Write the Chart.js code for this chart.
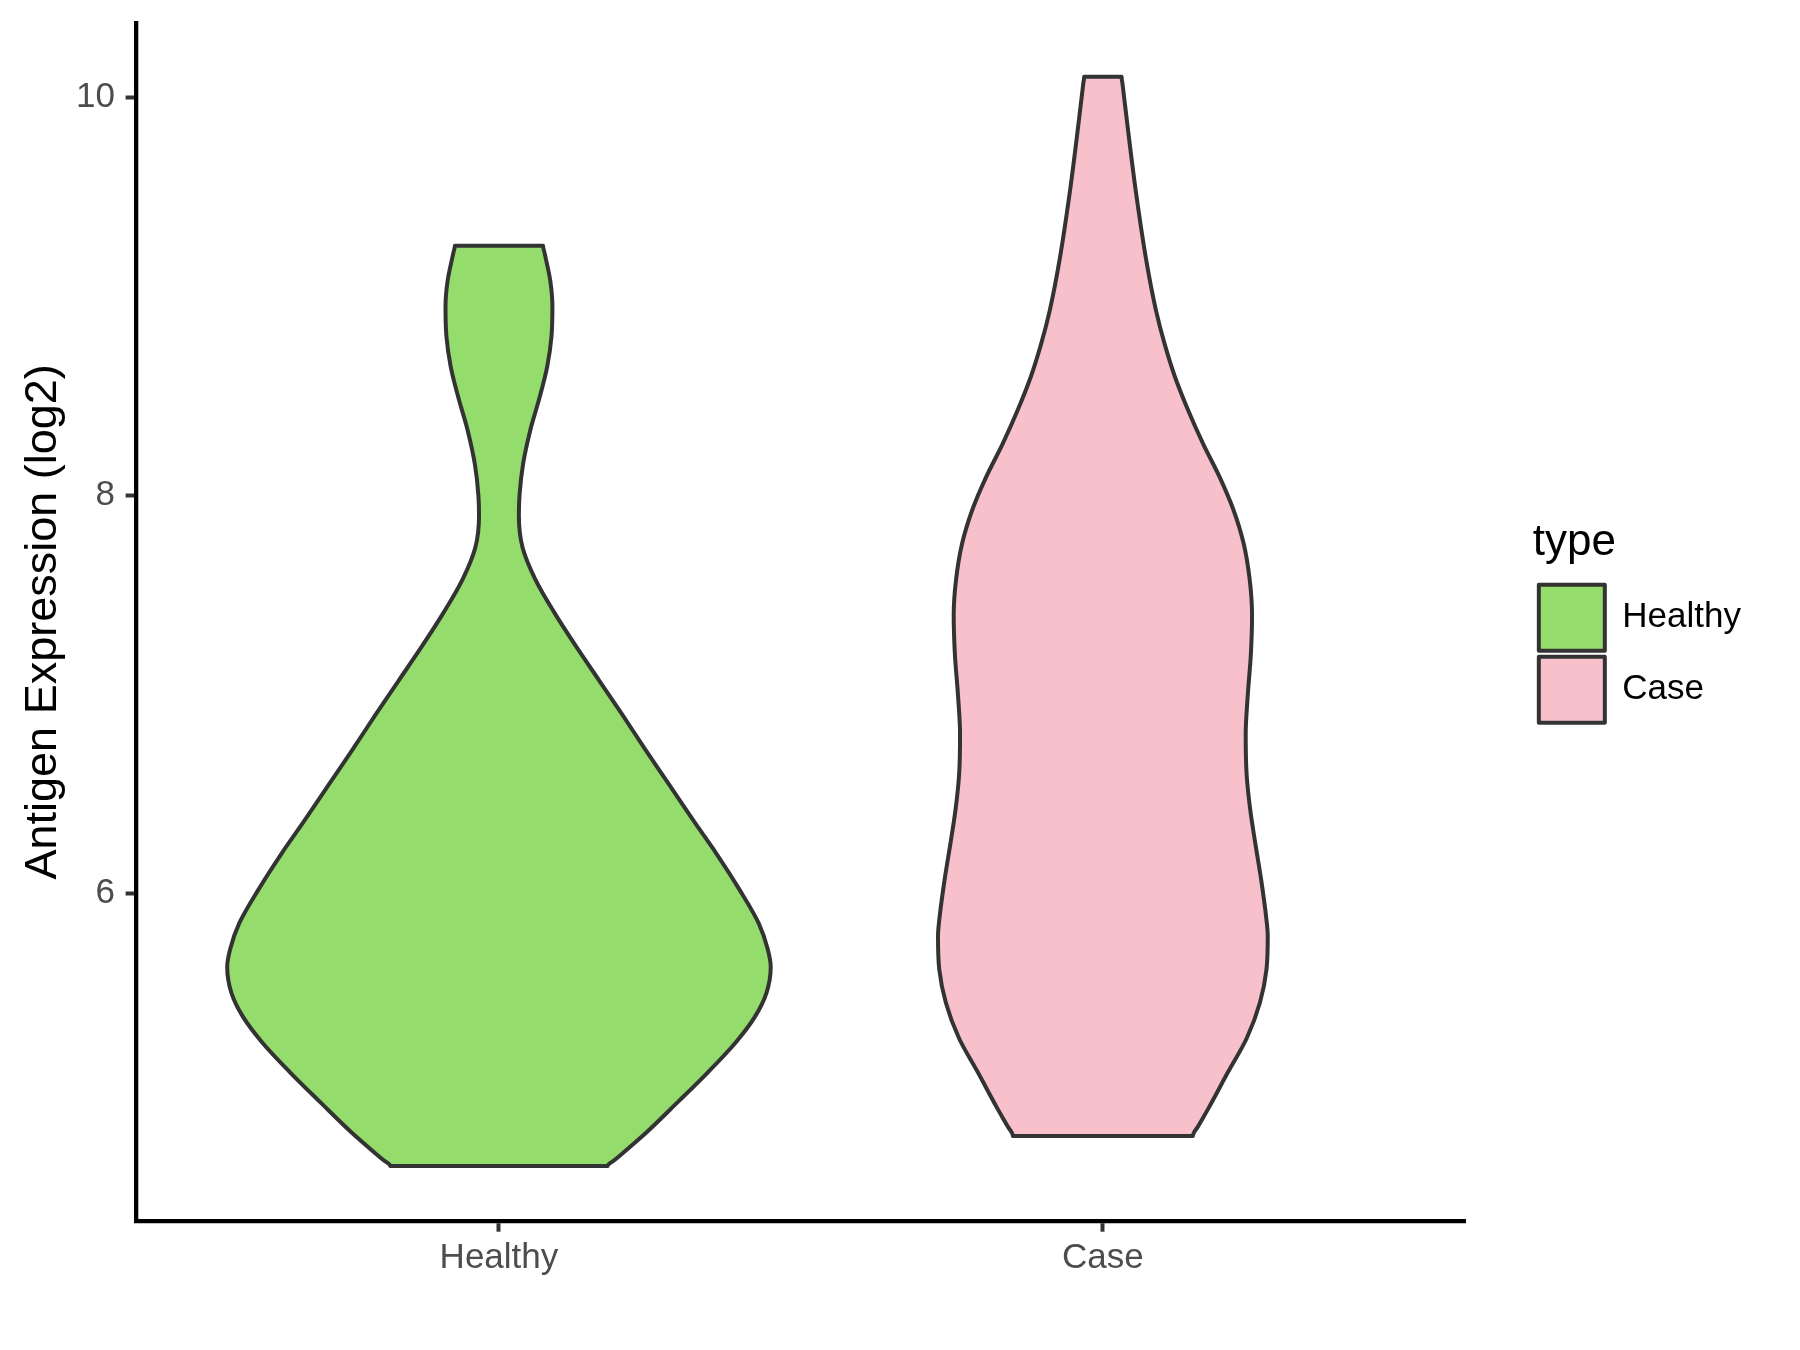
<!DOCTYPE html>
<html>
<head>
<meta charset="utf-8">
<title>Antigen Expression (log2)</title>
<script src="https://cdn.jsdelivr.net/npm/chart.js"></script>
<style>
  html, body { margin: 0; padding: 0; background: #fff; }
  canvas { display: block; }
</style>
</head>
<body>
<canvas id="violin" width="1800" height="1350"></canvas>
<script>
const categories = ['Healthy', 'Case'];
const yTicks = [6, 8, 10];

// violin outlines: expression level (top -> bottom) and half width of the density, in category units
const healthyLevels = [9.256, 9.22, 9.08, 8.95, 8.80, 8.65, 8.49, 8.33, 8.16, 8.00, 7.90, 7.74, 7.58, 7.41, 7.24, 7.07,
  6.90, 6.72, 6.55, 6.37, 6.20, 6.02, 5.85, 5.72, 5.63, 5.50, 5.38, 5.25, 5.10, 4.95, 4.80, 4.66, 4.629];
const healthyDensity = [0.073, 0.0755, 0.085, 0.0885, 0.087, 0.080, 0.067, 0.052, 0.040, 0.034, 0.033, 0.039, 0.060, 0.092, 0.128, 0.166,
  0.204, 0.243, 0.281, 0.321, 0.360, 0.398, 0.430, 0.445, 0.450, 0.443, 0.424, 0.392, 0.346, 0.296, 0.245, 0.192, 0.180];

const caseLevels = [10.106, 10.07, 9.854, 9.52, 9.18, 8.93, 8.765, 8.60, 8.43, 8.26, 8.095, 7.93, 7.76, 7.58, 7.40, 7.20,
  7.00, 6.80, 6.60, 6.42, 6.24, 6.07, 5.89, 5.785, 5.62, 5.45, 5.27, 5.10, 4.92, 4.83, 4.780];
const caseDensity = [0.031, 0.0325, 0.041, 0.055, 0.072, 0.088, 0.102, 0.119, 0.141, 0.166, 0.193, 0.216, 0.233, 0.243, 0.247, 0.245,
  0.240, 0.2365, 0.238, 0.244, 0.253, 0.262, 0.270, 0.273, 0.271, 0.260, 0.238, 0.207, 0.175, 0.158, 0.149];

const fillColors = ['#94dc6b', '#f7c0cb'];
const outline = '#333333';
const FONT = "'Liberation Sans', Arial, Helvetica, sans-serif";

// closed outline: start mid top edge, down the right side, back up the left side
function violinOutline(center, levels, density) {
  const n = levels.length;
  const pts = [{ x: center, y: levels[0] }];
  for (let i = 0; i < n; i++) pts.push({ x: center + density[i], y: levels[i] });
  for (let i = n - 1; i >= 0; i--) pts.push({ x: center - density[i], y: levels[i] });
  pts.push({ x: center, y: levels[0] });
  return pts;
}

const groups = [
  { levels: healthyLevels, density: healthyDensity },
  { levels: caseLevels, density: caseDensity }
];

const datasets = groups.map((g, i) => ({
  label: categories[i],
  data: violinOutline(i + 1, g.levels, g.density),
  indexAxis: 'y',
  xAxisID: 'x',
  yAxisID: 'y',
  backgroundColor: fillColors[i],
  borderColor: outline,
  borderWidth: 4,
  borderJoinStyle: 'round',
  fill: 'shape',
  cubicInterpolationMode: 'monotone',
  pointRadius: 0,
  pointHoverRadius: 0
}));

const tickGrid = {
  drawOnChartArea: false,
  drawTicks: true,
  tickLength: 11,
  tickWidth: 4,
  tickColor: '#333333'
};
const axisBorder = { display: true, color: '#000000', width: 4.3 };

new Chart(document.getElementById('violin'), {
  type: 'line',
  data: { datasets },
  options: {
    responsive: false,
    devicePixelRatio: 1,
    animation: false,
    events: [],
    layout: { padding: { left: 0, top: 23, right: 49, bottom: 0 } },
    plugins: {
      filler: { drawTime: 'beforeDatasetsDraw' },
      tooltip: { enabled: false },
      legend: {
        position: 'right',
        align: 'start',
        title: {
          display: true,
          text: 'type',
          position: 'start',
          color: '#000000',
          font: { family: FONT, size: 44 },
          padding: { top: 497.8, bottom: 5.15 }
        },
        labels: {
          boxWidth: 66,
          boxHeight: 66,
          padding: 6,
          color: '#000000',
          font: { family: FONT, size: 35 }
        }
      }
    },
    scales: {
      x: {
        type: 'linear',
        position: 'bottom',
        min: 0.4,
        max: 2.6,
        afterBuildTicks: s => { s.ticks = categories.map((c, i) => ({ value: i + 1 })); },
        afterFit: s => { s.height = 129.3; s.paddingLeft = 0; s.paddingRight = 0; },
        ticks: {
          callback: v => categories[v - 1],
          color: '#4d4d4d',
          font: { family: FONT, size: 35 },
          padding: 5.5,
          maxRotation: 0,
          autoSkip: false
        },
        grid: tickGrid,
        border: axisBorder
      },
      y: {
        type: 'linear',
        position: 'left',
        min: 4.354,
        max: 10.376,
        afterBuildTicks: s => { s.ticks = yTicks.map(v => ({ value: v })); },
        afterFit: s => { s.width = 136.6; s.paddingTop = 0; s.paddingBottom = 0; },
        title: {
          display: true,
          text: 'Antigen Expression (log2)',
          color: '#000000',
          font: { family: FONT, size: 45 },
          padding: { top: 17, bottom: 0 }
        },
        ticks: {
          color: '#4d4d4d',
          font: { family: FONT, size: 35 },
          padding: 10.6
        },
        grid: tickGrid,
        border: axisBorder
      },
      // empty strip between the plot and the legend
      gap: {
        type: 'linear',
        position: 'right',
        display: true,
        afterFit: s => { s.width = 67.6; },
        ticks: { display: false },
        grid: { display: false },
        border: { display: false }
      }
    }
  }
});
</script>
</body>
</html>
